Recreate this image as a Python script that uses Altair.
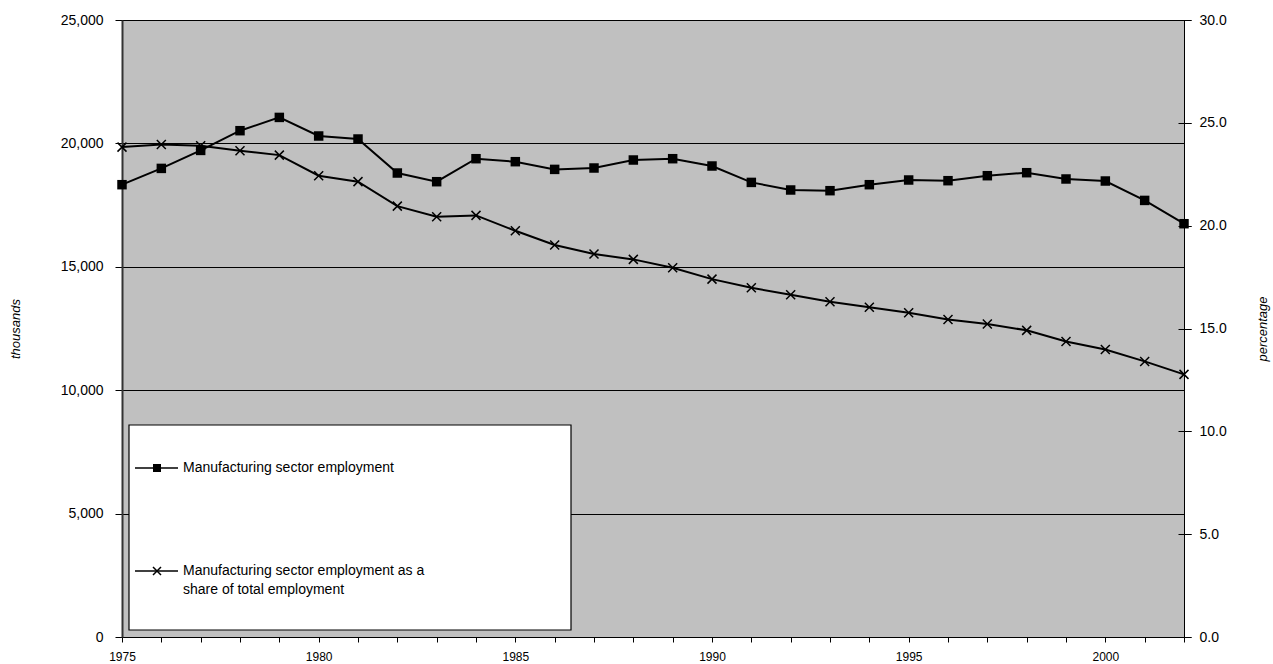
import altair as alt
import pandas as pd

# ---- data ----
years = list(range(1975, 2003))
employment = [18327, 18987, 19716, 20515, 21053, 20300, 20178, 18800, 18448, 19380,
              19259, 18947, 19003, 19327, 19380, 19084, 18420, 18112, 18084, 18327,
              18517, 18489, 18691, 18813, 18558, 18476, 17690, 16746]
share = [23.82, 23.95, 23.89, 23.64, 23.43, 22.43, 22.14, 20.95, 20.43, 20.50,
         19.75, 19.06, 18.62, 18.36, 17.95, 17.40, 16.98, 16.64, 16.30, 16.03,
         15.77, 15.44, 15.22, 14.91, 14.37, 13.98, 13.40, 12.77]
left_ticks = [0, 5000, 10000, 15000, 20000, 25000]
right_ticks = [0, 5, 10, 15, 20, 25, 30]
year_ticks = years
legend_emp = ["Manufacturing sector employment"]
legend_share = ["Manufacturing sector employment as a", "share of total employment"]
left_title = "thousands"
right_title = "percentage"

df = pd.DataFrame({"year": years, "employment": employment, "share": share})

FONT = "Liberation Sans"
W, H = 1062, 617
CROSS = "M -1 -1 L 1 1 M -1 1 L 1 -1"

x_enc = alt.X(
    "year:Q",
    scale=alt.Scale(domain=[1975, 2002], nice=False, zero=False),
    axis=alt.Axis(
        values=year_ticks, format="d",
        labelExpr="datum.value % 5 == 0 ? datum.label : ''",
        labelOverlap=False, labelFlush=False, tickSize=5, tickColor="black",
        domainColor="black", domainWidth=1, labelPadding=9, labelFontSize=12,
        grid=False, title=None,
    ),
)

y_emp = alt.Y(
    "employment:Q",
    scale=alt.Scale(domain=[0, 25000], nice=False),
    axis=alt.Axis(
        values=left_ticks, format=",d", grid=True, gridColor="black", gridWidth=1,
        gridOpacity=1, tickSize=7, tickColor="black", domainColor="#333333",
        domainWidth=2, labelFontSize=14, labelPadding=12, labelFlush=False,
        title=left_title, titleFontStyle="italic", titleFontWeight="normal",
        titleFontSize=13, titleX=-107, titleY=H / 2, titleAngle=270,
        titleAlign="center", titleBaseline="middle",
    ),
)

y_share = alt.Y(
    "share:Q",
    scale=alt.Scale(domain=[0, 30], nice=False),
    axis=alt.Axis(
        orient="right", values=right_ticks, format=".1f", grid=False,
        tickSize=7, tickColor="black", domainColor="black", domainWidth=1,
        labelFontSize=14, labelPadding=8, labelFlush=False,
        title=right_title, titleFontStyle="italic", titleFontWeight="normal",
        titleFontSize=13, titleX=78, titleY=H / 2, titleAngle=270,
        titleAlign="center", titleBaseline="middle",
    ),
)

y_share_ticks = alt.Y(
    "share:Q",
    scale=alt.Scale(domain=[0, 30], nice=False),
    axis=alt.Axis(
        orient="right", values=right_ticks, grid=False, labels=False, domain=False,
        tickSize=13, tickColor="black", offset=-6, title=None,
    ),
)

base = alt.Chart(df)

emp_layer = alt.layer(
    base.mark_line(color="black", strokeWidth=2).encode(x=x_enc, y=y_emp),
    base.mark_point(shape="square", filled=True, color="black", size=90, opacity=1).encode(x=x_enc, y=y_emp),
)

share_layer = alt.layer(
    base.mark_line(color="black", strokeWidth=2).encode(x=x_enc, y=y_share),
    base.mark_point(shape=CROSS, filled=False, color="black", strokeWidth=1.5,
                    size=81, opacity=1).encode(x=x_enc, y=y_share),
)

tick_layer = base.mark_point(opacity=0).encode(x=x_enc, y=y_share_ticks)

# ---- legend box (drawn manually, like the spreadsheet legend) ----
one = pd.DataFrame({"k": [0]})
leg_box = alt.Chart(one).mark_rect(fill="white", stroke="black", strokeWidth=1.2).encode(
    x=alt.value(7), x2=alt.value(449), y=alt.value(405), y2=alt.value(610)
)
leg_rule1 = alt.Chart(one).mark_rule(color="black", strokeWidth=1.5).encode(
    x=alt.value(13), x2=alt.value(56), y=alt.value(448)
)
leg_sym1 = alt.Chart(one).mark_point(shape="square", filled=True, color="black", size=64, opacity=1).encode(
    x=alt.value(35), y=alt.value(448)
)
leg_rule2 = alt.Chart(one).mark_rule(color="black", strokeWidth=1.5).encode(
    x=alt.value(13), x2=alt.value(56), y=alt.value(551)
)
leg_sym2 = alt.Chart(one).mark_point(shape=CROSS, filled=False, color="black", strokeWidth=1.5,
                                     size=64, opacity=1).encode(x=alt.value(35), y=alt.value(551))
leg_txt1 = alt.Chart(pd.DataFrame({"label": legend_emp})).mark_text(
    align="left", baseline="middle", font=FONT, fontSize=14, color="black"
).encode(text="label:N", x=alt.value(61), y=alt.value(448))
leg_txt2 = alt.Chart(pd.DataFrame({"label": legend_share[:1]})).mark_text(
    align="left", baseline="middle", font=FONT, fontSize=14, color="black"
).encode(text="label:N", x=alt.value(61), y=alt.value(551))
leg_txt3 = alt.Chart(pd.DataFrame({"label": legend_share[1:]})).mark_text(
    align="left", baseline="middle", font=FONT, fontSize=14, color="black"
).encode(text="label:N", x=alt.value(61), y=alt.value(570))

chart = alt.layer(
    emp_layer, share_layer, tick_layer,
    leg_box, leg_rule1, leg_sym1, leg_rule2, leg_sym2, leg_txt1, leg_txt2, leg_txt3,
).resolve_scale(y="independent").properties(
    width=W, height=H,
    autosize="none",
    padding={"left": 122, "top": 20, "right": 89, "bottom": 27},
    background="white",
).configure_view(
    fill="#C0C0C0", stroke="black", strokeWidth=1
).configure_axis(
    labelFont=FONT, titleFont=FONT, labelColor="black", titleColor="black"
)

chart.save("out.html", embed_options={"renderer": "svg", "actions": False})
